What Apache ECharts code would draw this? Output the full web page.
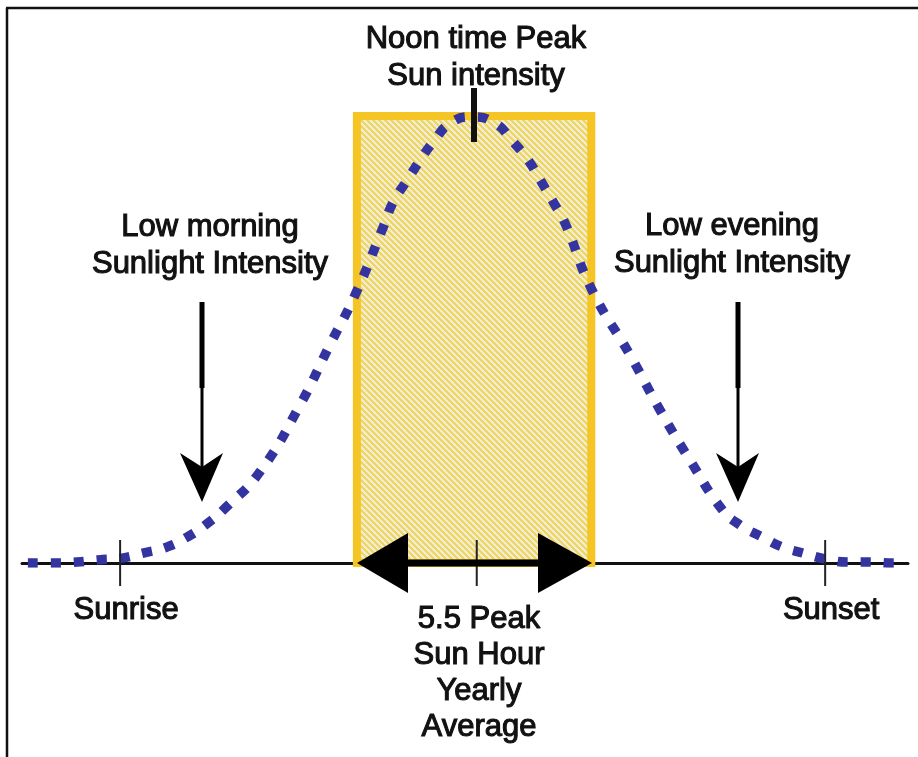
<!DOCTYPE html>
<html>
<head>
<meta charset="utf-8">
<script src="https://cdn.jsdelivr.net/npm/echarts@6/dist/echarts.min.js"></script>
<style>html,body{margin:0;padding:0;background:#fff}#chart{width:918px;height:757px}</style>
</head>
<body>
<div id="chart"></div>
<script>
// Sunlight intensity curve (hour of day, relative intensity)
const curveHours = [4.43, 4.86, 5.27, 5.63, 6.03, 6.39, 6.80, 7.14, 7.45, 7.79, 8.38, 9.06, 9.57, 10.0, 10.48, 10.65, 10.89, 11.11, 11.33, 11.62, 11.99, 12.38, 12.69, 12.94, 13.15, 13.37, 13.57, 14.03, 14.68, 15.19, 15.70, 16.25, 16.55, 16.93, 17.27, 17.63, 18.0, 18.39, 18.77, 19.16, 19.36];
const curveValues = [0, 0, 0.002, 0.007, 0.011, 0.022, 0.036, 0.058, 0.085, 0.123, 0.204, 0.353, 0.488, 0.600, 0.752, 0.808, 0.857, 0.902, 0.942, 0.984, 0.998, 0.984, 0.942, 0.902, 0.857, 0.808, 0.761, 0.611, 0.465, 0.342, 0.230, 0.119, 0.085, 0.058, 0.036, 0.022, 0.009, 0.002, 0.002, 0, 0];
// Peak sun hour window
const peakWindow = [10.03, 14.02];
const peakLevel = 1.0;
// Axis ticks
const tickHours = [6, 12.07, 18];
const tickLabels = ['Sunrise', '', 'Sunset'];
// Annotation texts
const noonText = 'Noon time Peak\nSun intensity';
const morningText = 'Low morning\nSunlight Intensity';
const eveningText = 'Low evening\nSunlight Intensity';
const peakHourText = '5.5 Peak\nSun Hour\nYearly\nAverage';

function makePattern() {
  const n = 6;
  const c = document.createElement('canvas');
  c.width = n; c.height = n;
  const ctx = c.getContext('2d');
  const img = ctx.createImageData(n, n);
  for (let y = 0; y < n; y++) {
    for (let x = 0; x < n; x++) {
      const d = ((x - y) % n + n) % n;
      const col = d < 3 ? [239, 214, 96] : [240, 237, 212];
      const k = (y * n + x) * 4;
      img.data[k] = col[0]; img.data[k + 1] = col[1]; img.data[k + 2] = col[2]; img.data[k + 3] = 255;
    }
  }
  ctx.putImageData(img, 0, 0);
  return c;
}

const FONT = '"Liberation Sans", Arial, sans-serif';
const txt = (text, x, y, lh) => ({
  type: 'text', x: x, y: y, z: 100,
  style: {
    text: text, fill: '#111', fontSize: 31, fontFamily: FONT,
    align: 'center', verticalAlign: 'top', lineHeight: lh,
    stroke: '#111', lineWidth: 1.1
  }
});

const chart = echarts.init(document.getElementById('chart'), null, { renderer: 'canvas' });
const option = {
  backgroundColor: '#fff',
  animation: false,
  grid: { left: 22, right: 10, top: 116, bottom: 194 },
  xAxis: {
    type: 'value', min: 4.33, max: 19.41,
    axisLine: { show: true, lineStyle: { color: '#111', width: 3 } },
    axisTick: { show: false }, axisLabel: { show: false }, splitLine: { show: false }
  },
  yAxis: { type: 'value', min: 0, max: 1, show: false },
  series: [
    {
      type: 'line', smooth: true, symbol: 'none', z: 3,
      data: curveHours.map((h, i) => [h, curveValues[i]]),
      lineStyle: { color: '#3434a0', width: 9.5, type: [10, 13], cap: 'butt' },
      markArea: {
        silent: true,
        itemStyle: { color: { image: makePattern(), repeat: 'repeat' }, borderColor: '#f4c524', borderWidth: 8 },
        data: [[{ xAxis: peakWindow[0], yAxis: 0 }, { xAxis: peakWindow[1], yAxis: peakLevel }]]
      }
    },
    {
      type: 'scatter', z: 4, symbol: 'rect', symbolSize: [2, 46], silent: true,
      itemStyle: { color: '#222', opacity: 1 },
      data: tickHours.map((h, i) => ({ value: [h, 0], name: tickLabels[i] })),
      label: {
        show: true, position: 'bottom', distance: 9, offset: [6, 0], formatter: p => p.name,
        color: '#111', opacity: 1, fontSize: 31, fontFamily: FONT, textBorderColor: '#111', textBorderWidth: 1.1
      }
    }
  ],
  graphic: [
    // frame
    { type: 'line', z: 100, shape: { x1: 7, y1: 8, x2: 7, y2: 757 }, style: { stroke: '#111', lineWidth: 2.5 } },
    { type: 'line', z: 100, shape: { x1: 6, y1: 8, x2: 918, y2: 8 }, style: { stroke: '#111', lineWidth: 2.5 } },
    // noon marker
    { type: 'line', z: 100, shape: { x1: 474, y1: 88, x2: 474, y2: 142 }, style: { stroke: '#111', lineWidth: 6 } },
    // double arrow
    { type: 'line', z: 100, shape: { x1: 400, y1: 563, x2: 548, y2: 563 }, style: { stroke: '#000', lineWidth: 7 } },
    { type: 'polygon', z: 100, shape: { points: [[357, 563], [408, 533], [408, 593]] }, style: { fill: '#000' } },
    { type: 'polygon', z: 100, shape: { points: [[592, 563], [538, 533], [538, 593]] }, style: { fill: '#000' } },
    // morning arrow
    { type: 'line', z: 100, shape: { x1: 202, y1: 302, x2: 202, y2: 388 }, style: { stroke: '#000', lineWidth: 5 } },
    { type: 'line', z: 100, shape: { x1: 202, y1: 386, x2: 202, y2: 470 }, style: { stroke: '#000', lineWidth: 3 } },
    { type: 'polygon', z: 100, shape: { points: [[202, 502], [180, 453], [202, 467], [223, 453]] }, style: { fill: '#000' } },
    // evening arrow
    { type: 'line', z: 100, shape: { x1: 738, y1: 302, x2: 738, y2: 388 }, style: { stroke: '#000', lineWidth: 5 } },
    { type: 'line', z: 100, shape: { x1: 738, y1: 386, x2: 738, y2: 470 }, style: { stroke: '#000', lineWidth: 3 } },
    { type: 'polygon', z: 100, shape: { points: [[738, 502], [716, 453], [738, 467], [759, 453]] }, style: { fill: '#000' } },
    // texts
    txt(noonText, 476, 21, 37),
    txt(morningText, 210, 209, 37),
    txt(eveningText, 732, 208, 37),
    txt(peakHourText, 479, 601, 36)
  ]
};
chart.setOption(option);
</script>
</body>
</html>
